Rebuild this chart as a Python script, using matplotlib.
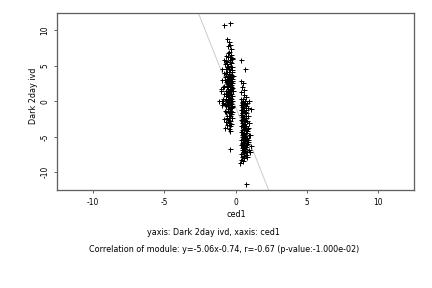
import matplotlib
matplotlib.use("Agg")
import matplotlib.pyplot as plt
import numpy as np

plt.rcParams['font.family'] = ['DejaVu Sans']

# left cluster (x, y)
left_pts = [
(-0.84, 10.7), (-0.42, 11.1), (-0.60, 8.8), (-0.48, 8.3), (-0.40, 8.0), (-0.55, 7.8), (-0.35, 7.4), (-0.45, 7.0),
(-0.30, 6.6), (-0.55, 6.3), (-0.25, 6.1), (-0.80, 5.9), (-0.68, 5.7), (-0.42, 5.6), (-0.30, 5.4), (-0.60, 5.2),
(-0.50, 5.0), (-0.22, 4.9), (-0.95, 4.6), (-0.70, 4.5), (-0.38, 4.4), (-0.58, 4.2), (-0.28, 4.1), (-0.82, 4.0),
(-0.45, 3.9), (-0.65, 3.8), (-0.33, 3.7), (-0.20, 3.6), (-0.55, 3.5), (-0.75, 3.4), (-0.42, 3.3), (-0.27, 3.2),
(-0.60, 3.1), (-0.92, 3.0), (-0.50, 2.9), (-0.36, 2.8), (-0.68, 2.7), (-0.23, 2.6), (-0.46, 2.5), (-0.57, 2.4),
(-0.31, 2.3), (-0.78, 2.2), (-0.40, 2.1), (-0.63, 2.0), (-0.26, 1.9), (-0.52, 1.8), (-1.00, 1.7), (-0.37, 1.6),
(-0.70, 1.5), (-0.21, 1.4), (-0.47, 1.3), (-1.05, 1.5), (-0.60, 1.2), (-0.33, 1.1), (-0.80, 1.0), (-0.44, 0.9),
(-0.27, 0.8), (-0.65, 0.7), (-0.54, 0.6), (-0.38, 0.5), (-0.88, 0.4), (-0.30, 0.3), (-0.70, 0.2), (-0.48, 0.1),
(-1.16, 0.0), (-0.98, 0.0), (-0.24, 0.0), (-0.60, -0.1), (-0.41, -0.2), (-0.75, -0.3), (-0.33, -0.4), (-0.92, -0.5),
(-0.52, -0.5), (-0.26, -0.6), (-0.66, -0.7), (-0.44, -0.8), (-0.30, -1.0), (-0.56, -1.1), (-0.38, -1.3), (-0.72, -1.4),
(-0.24, -1.5), (-0.48, -1.6), (-0.34, -1.8), (-0.62, -2.0), (-0.42, -2.1), (-0.28, -2.3), (-0.82, -2.5), (-0.52, -2.6),
(-0.36, -2.8), (-0.68, -2.9), (-0.45, -3.0), (-0.30, -3.2), (-0.62, -3.3), (-0.38, -3.5), (-0.76, -3.8), (-0.48, -3.9),
(-0.40, -4.2), (-0.42, -6.7),
(-0.46, 4.6), (-0.34, 4.8), (-0.44, 3.0), (-0.38, 2.7), (-0.52, 2.2), (-0.32, 1.7), (-0.43, 1.2), (-0.50, 0.4),
(-0.36, -0.1), (-0.54, -0.3), (-0.42, -1.3), (-0.37, 5.8), (-0.50, 6.8), (-0.28, 6.0), (-0.58, 5.5), (-0.34, 3.4),
(-0.54, 3.6), (-0.32, 2.0), (-0.47, 1.0), (-0.28, -0.8), (-0.62, 4.8), (-0.22, 2.9), (-0.68, 1.0), (-0.74, 3.0),
(-0.88, 2.0), (-0.58, 0.0), (-0.66, -1.5), (-0.58, -2.4), (-0.72, 5.2), (-0.26, 4.4), (-0.64, 6.4), (-0.40, 6.2),
(-0.55, 1.5), (-0.45, -2.4), (-0.86, -0.2),
]

# right cluster (x, y)
right_pts = [
(0.40, 5.9), (0.63, 4.5), (0.38, 2.9), (0.50, 2.6), (0.44, 2.0), (0.62, 1.6), (0.40, 1.3), (0.56, 0.9),
(0.72, 0.6), (0.35, 0.4), (0.50, 0.3), (0.92, 0.0), (0.64, 0.1), (0.42, -0.1), (0.80, -0.2), (0.54, -0.3),
(0.37, -0.5), (0.70, -0.6), (0.46, -0.8), (0.60, -0.9), (1.08, -1.1), (0.86, -1.0), (0.40, -1.2), (0.54, -1.3),
(0.68, -1.5), (0.48, -1.6), (0.76, -1.7), (0.38, -1.9), (0.60, -2.0), (0.90, -2.1), (0.46, -2.2), (0.70, -2.4),
(0.54, -2.5), (0.36, -2.6), (0.82, -2.7), (0.64, -2.9), (0.43, -3.0), (0.98, -3.1), (0.57, -3.2), (0.74, -3.4),
(0.40, -3.5), (0.52, -3.6), (0.86, -3.7), (0.65, -3.8), (0.46, -4.0), (0.60, -4.1), (0.78, -4.2), (0.38, -4.3),
(0.54, -4.4), (0.70, -4.5), (1.04, -4.7), (0.48, -4.7), (0.94, -4.8), (0.64, -4.9), (0.42, -5.0), (0.82, -5.1),
(0.57, -5.2), (0.72, -5.3), (0.37, -5.4), (0.52, -5.5), (0.67, -5.6), (0.88, -5.7), (0.45, -5.8), (0.62, -5.9),
(0.77, -6.0), (0.40, -6.1), (0.54, -6.2), (1.12, -6.3), (0.70, -6.4), (0.48, -6.5), (0.60, -6.6), (0.92, -6.8),
(0.42, -6.9), (0.65, -7.0), (0.80, -7.1), (1.00, -7.1), (0.52, -7.2), (0.38, -7.4), (0.72, -7.5), (0.57, -7.7),
(0.45, -7.8), (0.78, -7.9), (0.62, -8.0), (0.40, -8.2), (0.52, -8.4), (0.32, -8.7), (0.72, -11.6),
(0.50, -1.0), (0.57, -2.3), (0.53, -3.3), (0.61, -3.9), (0.56, -4.6), (0.58, -5.0), (0.52, -5.7), (0.61, -6.3),
(0.54, -6.9), (0.47, -0.2), (0.66, -0.4), (0.45, -1.7), (0.67, -2.7), (0.49, -4.9), (0.69, -5.3), (0.53, 0.0),
(0.56, -7.3), (0.66, -6.7), (0.75, -1.2), (0.82, -3.9), (0.44, -2.8), (0.73, -6.2), (0.60, -0.2), (0.84, -5.5),
(0.47, -6.0),
]

slope = -5.06
intercept = -0.74
x_ticks = [-10, -5, 0, 5, 10]
y_ticks = [-10, -5, 0, 5, 10]
x_label = "ced1"
y_label = "Dark 2day ivd"
caption1 = "yaxis: Dark 2day ivd, xaxis: ced1"
caption2 = "Correlation of module: y=-5.06x-0.74, r=-0.67 (p-value:-1.000e-02)"

fig = plt.figure(figsize=(6, 4), dpi=72)
ax = fig.add_axes([0.1327, 0.340, 0.825, 0.616])

pts = np.array(left_pts + right_pts)
xl = np.array([-12.5, 12.5])
ax.plot(xl, slope * xl + intercept, color='#c8c8c8', lw=0.9, zorder=1)
ax.plot(pts[:, 0], pts[:, 1], '+', color='black', ms=5, mew=1.0, zorder=2)

ax.set_xlim(-12.5, 12.5)
ax.set_ylim(-12.5, 12.5)
ax.set_xticks(x_ticks)
ax.set_yticks(y_ticks)
ax.set_xticklabels([str(t) for t in x_ticks], fontsize=7.5)
ax.set_yticklabels([str(t) for t in y_ticks], fontsize=7.5, rotation=90, va='center')
ax.tick_params(length=3, width=0.8, color='#404040', pad=5)
for s in ax.spines.values():
    s.set_color('#606060')
    s.set_linewidth(1.3)

fig.text(0.546, 0.2535, x_label, ha='center', va='center', fontsize=8)
fig.text(0.077, 0.668, y_label, ha='center', va='center', fontsize=8, rotation=90)
fig.text(0.495, 0.194, caption1, ha='center', va='center', fontsize=8)
fig.text(0.519, 0.135, caption2, ha='center', va='center', fontsize=8)

fig.savefig("out.png", dpi=72)
